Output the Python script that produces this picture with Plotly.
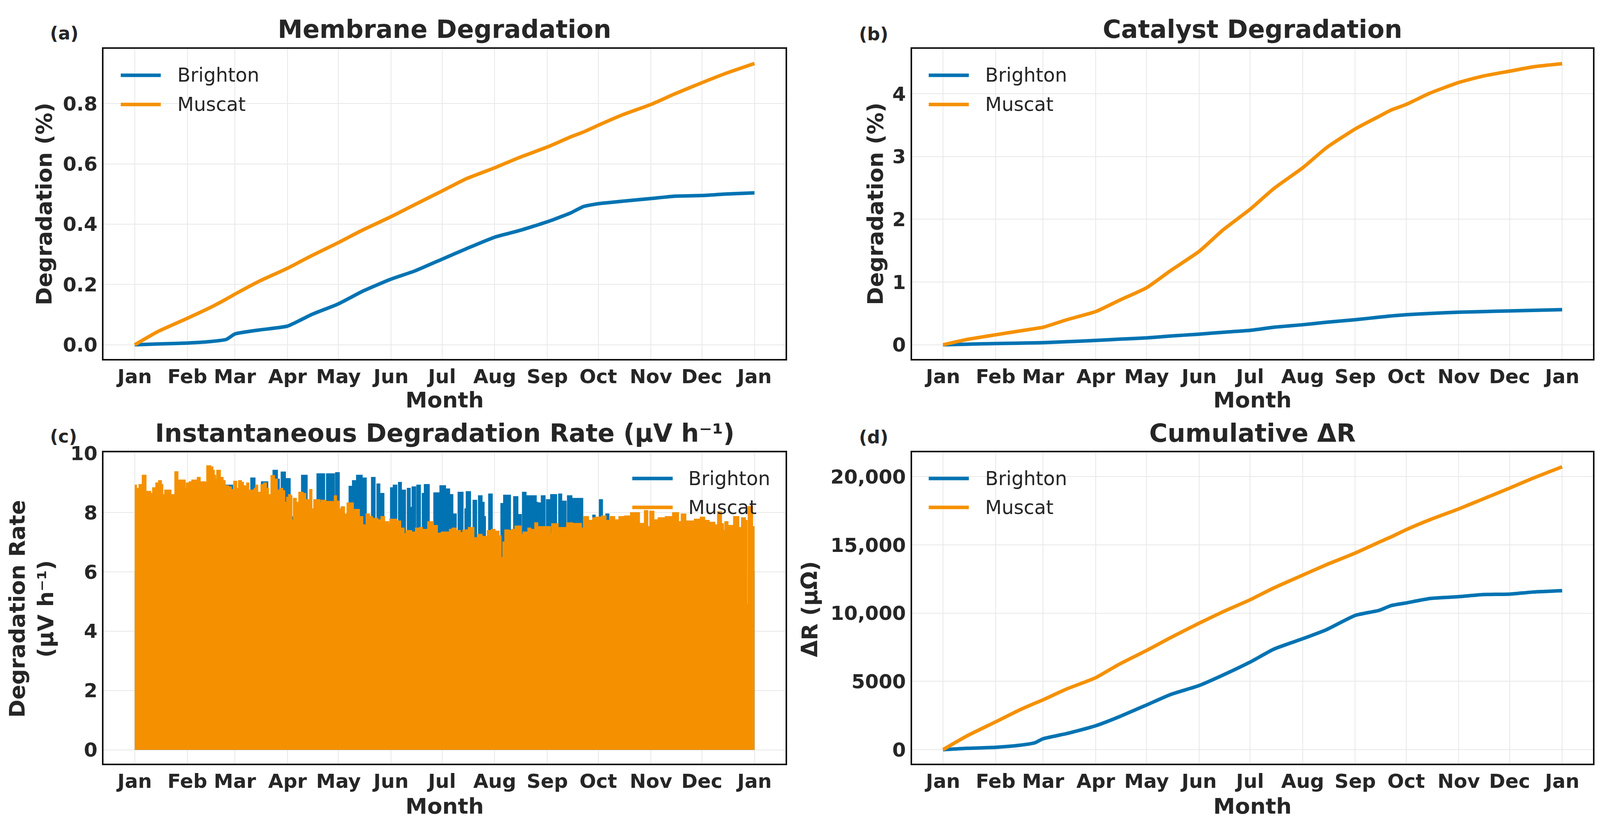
import pandas as pd
import plotly.graph_objects as go

# ---------------- data ----------------
dates = ['2023-01-01', '2023-01-15', '2023-02-01', '2023-02-15', '2023-02-24', '2023-03-01',
         '2023-03-15', '2023-04-01', '2023-04-15', '2023-05-01', '2023-05-15', '2023-06-01',
         '2023-06-15', '2023-07-01', '2023-07-15', '2023-08-01', '2023-08-15', '2023-09-01',
         '2023-09-15', '2023-09-22', '2023-10-01', '2023-10-15', '2023-11-01', '2023-11-15',
         '2023-12-01', '2023-12-15', '2023-12-31 23:00']

membrane_brighton = [0.0, 0.003, 0.006, 0.011, 0.018, 0.036, 0.049, 0.062, 0.100, 0.136, 0.177,
                     0.218, 0.245, 0.284, 0.318, 0.357, 0.378, 0.408, 0.438, 0.458, 0.468, 0.476,
                     0.485, 0.493, 0.495, 0.500, 0.504]
membrane_muscat = [0.0, 0.045, 0.088, 0.125, 0.152, 0.168, 0.210, 0.254, 0.295, 0.339, 0.380,
                   0.425, 0.465, 0.510, 0.550, 0.587, 0.620, 0.656, 0.690, 0.705, 0.728, 0.762,
                   0.797, 0.832, 0.869, 0.900, 0.933]

catalyst_brighton = [0.0, 0.010, 0.020, 0.027, 0.032, 0.035, 0.050, 0.070, 0.090, 0.110, 0.140,
                     0.170, 0.200, 0.230, 0.280, 0.320, 0.360, 0.400, 0.440, 0.460, 0.480, 0.500,
                     0.520, 0.530, 0.540, 0.550, 0.560]
catalyst_muscat = [0.0, 0.085, 0.16, 0.22, 0.258, 0.28, 0.40, 0.53, 0.71, 0.91, 1.18, 1.49, 1.83,
                   2.16, 2.49, 2.82, 3.14, 3.44, 3.64, 3.74, 3.83, 4.01, 4.18, 4.28, 4.36, 4.43,
                   4.48]

dr_brighton = [0, 95, 170, 320, 500, 800, 1180, 1750, 2417, 3273, 4034, 4700, 5461, 6413, 7364,
               8125, 8791, 9838, 10200, 10550, 10750, 11075, 11208, 11360, 11398, 11550, 11646]
dr_muscat = [0, 1000, 2036, 2900, 3390, 3654, 4450, 5271, 6270, 7269, 8200, 9267, 10100, 10980,
             11850, 12788, 13550, 14405, 15200, 15580, 16118, 16850, 17640, 18350, 19163, 19900,
             20723]

# instantaneous rate: daily-peak envelope (day of year, value) for Muscat
rate_muscat_day = [0.0, 1.0, 2.6, 4.5, 6.6, 9.4, 10.6, 12.5, 14.1, 15.7, 16.5, 17.7, 21.3, 23.7,
                   25.4, 29.7, 30.5, 32.1, 33.7, 36.9, 38.5, 41.7, 42.5, 44.8, 46.0, 46.8, 47.6,
                   48.4, 50.4, 52.0, 53.2, 55.2, 56.8, 58.4, 60.0, 61.2, 62.8, 64.0, 65.2, 66.0,
                   67.2, 70.4, 71.2, 72.4, 74.4, 76.0, 77.5, 78.7, 80.3, 82.3, 83.9, 85.5, 87.1,
                   88.3, 89.5, 90.7, 91.9, 92.5, 93.5, 95.1, 96.7, 99.1, 100.7, 103.1, 104.3,
                   105.5, 109.0, 109.8, 112.6, 116.8, 117.6, 118.8, 120.4, 121.6, 123.5, 125.1,
                   128.7, 132.3, 134.3, 136.3, 138.3, 139.9, 143.1, 145.1, 147.1, 149.5, 150.3,
                   154.3, 156.6, 158.6, 159.8, 163.0, 165.4, 167.8, 169.4, 172.6, 175.8, 178.2,
                   180.6, 185.4, 187.0, 189.3, 191.7, 193.3, 196.5, 199.7, 202.1, 204.5, 207.7,
                   210.1, 212.1, 214.5, 215.7, 216.8, 218.0, 220.4, 222.0, 224.0, 227.6, 228.8,
                   231.6, 233.2, 235.6, 237.3, 244.8, 245.6, 249.3, 254.4, 257.8, 263.0, 264.3,
                   267.2, 269.8, 271.5, 274.9, 277.5, 280.1, 282.6, 285.2, 288.6, 292.0, 297.2,
                   300.2, 302.1, 303.4, 305.7, 308.3, 312.5, 316.8, 320.2, 321.9, 324.5, 329.6,
                   333.1, 335.6, 338.2, 341.6, 343.3, 345.5, 346.7, 347.6, 349.3, 352.7, 355.7,
                   357.4, 359.6, 360.5, 361.3, 363.8, 365.0]
rate_muscat_val = [8.92, 8.81, 8.94, 9.25, 8.71, 8.64, 8.83, 8.99, 9.07, 8.94, 8.60, 8.75, 8.60,
                   9.37, 9.09, 8.81, 8.99, 9.03, 9.09, 9.18, 9.03, 8.99, 9.57, 9.53, 9.42, 9.25,
                   9.12, 9.42, 9.18, 9.07, 8.90, 8.86, 8.77, 9.05, 8.81, 9.07, 9.01, 8.90, 8.86,
                   8.99, 8.75, 8.81, 8.92, 8.68, 8.94, 8.99, 8.81, 8.60, 9.24, 9.12, 8.75, 8.81,
                   8.73, 8.34, 8.51, 8.60, 8.56, 7.74, 8.47, 8.34, 8.68, 8.64, 8.43, 8.77, 8.12,
                   8.43, 8.32, 8.41, 8.37, 8.34, 8.56, 8.38, 8.12, 8.19, 7.95, 8.32, 8.10, 7.86,
                   7.58, 7.95, 7.86, 7.80, 7.75, 7.86, 7.69, 7.60, 7.77, 7.71, 7.47, 7.28, 7.39,
                   7.34, 7.47, 7.49, 7.43, 7.69, 7.56, 7.30, 7.34, 7.43, 7.47, 7.39, 7.32, 7.41,
                   7.49, 7.15, 7.26, 7.19, 7.39, 7.43, 7.37, 7.21, 6.48, 7.00, 7.41, 7.39, 7.43,
                   7.54, 7.26, 7.34, 7.47, 7.43, 7.65, 7.52, 7.28, 7.62, 7.49, 7.65, 7.63, 7.47,
                   7.86, 7.73, 7.82, 7.84, 7.88, 7.73, 7.86, 7.75, 7.86, 7.88, 7.99, 7.63, 8.06,
                   7.52, 8.04, 7.75, 7.82, 7.86, 7.99, 7.69, 7.95, 7.71, 7.77, 7.84, 7.73, 7.67,
                   7.58, 8.02, 7.62, 7.39, 7.69, 7.56, 7.86, 7.49, 7.82, 7.73, 4.90, 8.20, 7.52,
                   7.52]

# Brighton daily-peak episodes that rise above the Muscat envelope (start day, end day, value)
rate_brighton_base = 6.0
rate_brighton_start = [53.6, 68.4, 74.7, 81.5, 84.0, 86.3, 88.7, 92.5, 98.3, 107.4, 113.0, 118.4,
                       126.3, 128.3, 130.7, 133.9, 139.5, 142.7, 144.3, 150.7, 152.3, 155.4, 157.0,
                       160.6, 162.2, 163.4, 166.2, 169.4, 170.6, 176.2, 179.8, 183.0, 185.4, 187.3,
                       190.5, 194.5, 195.3, 199.3, 202.5, 204.5, 205.7, 208.5, 215.7, 217.3, 223.2,
                       225.6, 228.4, 230.4, 236.4, 237.3, 239.5, 242.5, 245.0, 249.7, 251.4, 254.9,
                       257.4, 269.8, 273.7, 277.5, 360.4]
rate_brighton_end = [57.6, 70.8, 78.3, 84.0, 85.1, 88.7, 91.5, 93.5, 101.5, 111.8, 117.6, 120.4,
                     128.3, 130.7, 133.9, 136.3, 141.5, 144.3, 146.7, 152.3, 154.3, 157.0, 159.4,
                     162.2, 163.0, 165.4, 168.2, 170.6, 173.4, 179.8, 183.0, 185.4, 187.3, 189.3,
                     193.3, 195.3, 197.7, 201.3, 204.5, 205.7, 206.5, 210.5, 217.3, 221.2, 225.6,
                     227.6, 230.4, 236.4, 237.3, 239.0, 241.6, 245.0, 248.4, 251.4, 254.0, 257.4,
                     263.8, 271.1, 275.4, 279.2, 361.4]
rate_brighton_val = [8.92, 9.16, 9.03, 9.42, 9.12, 9.36, 9.14, 7.85, 9.25, 9.30, 9.30, 9.34,
                     8.88, 9.07, 9.25, 9.16, 9.18, 8.96, 8.64, 8.83, 8.92, 9.01, 8.75, 8.81, 8.17,
                     8.86, 8.92, 8.64, 8.94, 8.66, 8.90, 8.79, 8.60, 7.95, 8.68, 8.12, 8.70, 8.41,
                     8.56, 8.34, 7.86, 8.62, 8.30, 8.58, 8.53, 7.93, 8.68, 8.56, 8.34, 8.32, 8.56,
                     8.43, 8.60, 8.62, 8.38, 8.56, 8.47, 7.91, 8.43, 7.95, 4.50]

# ---------------- style ----------------
FONT = 'DejaVu Sans'
TXT = '#262626'
BLUE = '#0173B2'
ORANGE = '#F59100'
FIG_H = 2091          # page height minus the default 8 px body margins
LW = 9


def px(x_ref):
    """horizontal position (reference pixels) -> paper fraction"""
    return (x_ref - 8) / 4215


def py(y_ref):
    """vertical position (reference pixels from top) -> paper fraction"""
    return 1 - (y_ref - 8) / FIG_H


base = pd.Timestamp('2023-01-01')
end = pd.Timestamp('2023-12-31 23:00')
span = end - base
x_lo, x_hi = base - span * 0.05, end + span * 0.05


def to_dates(days):
    return [base + pd.Timedelta(days=d) for d in days]


# Brighton step envelope
b_days, b_vals = [0.0], [rate_brighton_base]
for s, e, v in zip(rate_brighton_start, rate_brighton_end, rate_brighton_val):
    b_days += [s, e]
    b_vals += [v, rate_brighton_base]
b_days.append(365.0)
b_vals.append(rate_brighton_base)

fig = go.Figure()


def line(x, y, color, xa, ya, name):
    fig.add_trace(go.Scatter(x=x, y=y, mode='lines', name=name, showlegend=False,
                             line=dict(color=color, width=LW, shape='spline', smoothing=0.5),
                             xaxis=xa, yaxis=ya))


line(dates, membrane_brighton, BLUE, 'x', 'y', 'Brighton')
line(dates, membrane_muscat, ORANGE, 'x', 'y', 'Muscat')
line(dates, catalyst_brighton, BLUE, 'x2', 'y2', 'Brighton')
line(dates, catalyst_muscat, ORANGE, 'x2', 'y2', 'Muscat')
line(dates, dr_brighton, BLUE, 'x4', 'y4', 'Brighton')
line(dates, dr_muscat, ORANGE, 'x4', 'y4', 'Muscat')

fig.add_trace(go.Scatter(x=to_dates(b_days), y=b_vals, mode='lines', line_shape='hv',
                         line=dict(color=BLUE, width=3), fill='tozeroy', fillcolor=BLUE,
                         showlegend=False, name='Brighton', xaxis='x3', yaxis='y3'))
fig.add_trace(go.Scatter(x=to_dates(rate_muscat_day), y=rate_muscat_val, mode='lines',
                         line_shape='hv', line=dict(color=ORANGE, width=3), fill='tozeroy',
                         fillcolor=ORANGE, showlegend=False, name='Muscat',
                         xaxis='x3', yaxis='y3'))

# ---------------- axes ----------------
LX = [px(274), px(2077)]
RX = [px(2412), px(4213)]
TY = [py(904), py(100.5)]
BY = [py(1953), py(1146)]


def common():
    return dict(showline=True, mirror=True, linecolor='#111111', linewidth=4,
                showgrid=True, gridcolor='#e8e8e8', gridwidth=2, zeroline=False,
                ticks='', tickfont=dict(family=FONT, size=50, color=TXT, weight='bold'))


def xax(dom, anchor):
    d = common()
    d.update(domain=dom, anchor=anchor, type='date', range=[x_lo, x_hi],
             tick0='2023-01-01', dtick='M1', tickformat='%b', ticklabelstandoff=-2)
    return d


def yax(dom, anchor, rng, vals, text):
    d = common()
    d.update(domain=dom, anchor=anchor, range=rng, tickmode='array', tickvals=vals,
             ticktext=text, ticklabelstandoff=2)
    return d


fig.update_layout(
    xaxis=xax(LX, 'y'), xaxis2=xax(RX, 'y2'), xaxis3=xax(LX, 'y3'), xaxis4=xax(RX, 'y4'),
    yaxis=yax(TY, 'x', [-0.0467, 0.981], [0, 0.2, 0.4, 0.6, 0.8],
              ['0.0', '0.2', '0.4', '0.6', '0.8']),
    yaxis2=yax(TY, 'x2', [-0.2245, 4.714], [0, 1, 2, 3, 4], ['0', '1', '2', '3', '4']),
    yaxis3=yax(BY, 'x3', [-0.46, 10.03], [0, 2, 4, 6, 8, 10],
               ['0', '2', '4', '6', '8', '10']),
    yaxis4=yax(BY, 'x4', [-1020, 21790], [0, 5000, 10000, 15000, 20000],
               ['0', '5000', '10,000', '15,000', '20,000']),
    height=FIG_H, autosize=True, margin=dict(l=0, r=0, t=0, b=0),
    plot_bgcolor='white', paper_bgcolor='white', showlegend=False,
    font=dict(family=FONT, color=TXT),
)

ann = []


def text(x, y, s, size, bold=True, angle=0, xanchor='center'):
    ann.append(dict(x=x, y=y, xref='paper', yref='paper', text=s, showarrow=False,
                    xanchor=xanchor, yanchor='middle', textangle=angle,
                    font=dict(family=FONT, size=size, color=TXT,
                              weight='bold' if bold else 'normal')))


lc = (LX[0] + LX[1]) / 2
rc = (RX[0] + RX[1]) / 2
# subplot titles
text(lc, py(50), 'Membrane Degradation', 64)
text(rc, py(50), 'Catalyst Degradation', 64)
text(lc, py(1097), 'Instantaneous Degradation Rate (μV h⁻¹)', 64)
text(rc, py(1097), 'Cumulative ΔR', 64)
# panel letters
text(px(170), py(60), '(a)', 46)
text(px(2310), py(62), '(b)', 46)
text(px(168), py(1105), '(c)', 46)
text(px(2310), py(1107), '(d)', 46)
# x titles
for xc in (lc, rc):
    text(xc, py(1010), 'Month', 56)
    text(xc, py(2063), 'Month', 56)
# y titles
text(px(116), (TY[0] + TY[1]) / 2, 'Degradation (%)', 56, angle=-90)
text(px(2314), (TY[0] + TY[1]) / 2, 'Degradation (%)', 56, angle=-90)
text(px(82), py(1552), 'Degradation Rate<br>(μV h⁻¹)', 56, angle=-90)
text(px(2141), py(1553), 'ΔR (μΩ)', 56, angle=-90)

# legends (drawn manually, in axis-domain coordinates)
shapes = []


def legend(xa, ya, x0, x1, xt, y_b, y_m):
    for yy, col, name in ((y_b, BLUE, 'Brighton'), (y_m, ORANGE, 'Muscat')):
        shapes.append(dict(type='line', xref=xa + ' domain', yref=ya + ' domain',
                           x0=x0, x1=x1, y0=yy, y1=yy, layer='above',
                           line=dict(color=col, width=LW)))
        ann.append(dict(x=xt, y=yy, xref=xa + ' domain', yref=ya + ' domain', text=name,
                        showarrow=False, xanchor='left', yanchor='middle',
                        font=dict(family=FONT, size=49, color=TXT)))


legend('x', 'y', 0.025, 0.0837, 0.107, 0.915, 0.821)
legend('x2', 'y2', 0.0244, 0.0833, 0.106, 0.915, 0.821)
legend('x3', 'y3', 0.7753, 0.8346, 0.8563, 0.9157, 0.8228)
legend('x4', 'y4', 0.0244, 0.0833, 0.106, 0.9157, 0.8228)

fig.update_layout(annotations=ann, shapes=shapes)
fig.write_html('out.html')
